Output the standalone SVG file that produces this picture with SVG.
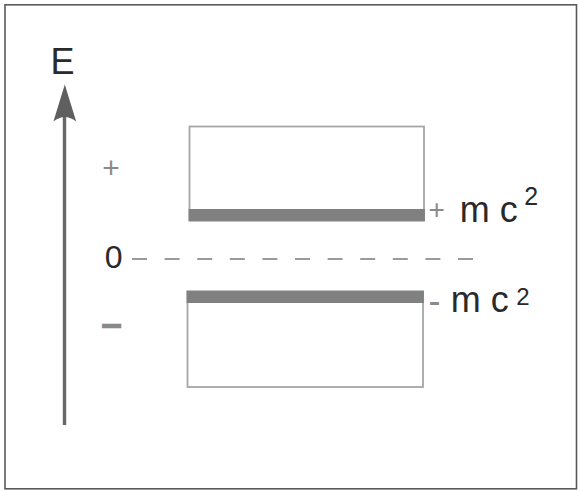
<svg xmlns="http://www.w3.org/2000/svg" width="581" height="491" viewBox="0 0 581 491">
  <style>
    .frame { fill: #ffffff; stroke: #5a5a5a; stroke-width: 1.6; }
    .band-box { fill: #ffffff; stroke: #a6a6a6; stroke-width: 1.8; }
    .band-edge { fill: #808080; }
    .axis { stroke: #666666; stroke-width: 3.4; fill: none; }
    .axis-head { fill: #5f5f5f; }
    .zero-line { stroke: #7a7a7a; stroke-width: 1.5; stroke-dasharray: 15 17.6; fill: none; }
    .lbl { font-family: "Liberation Sans", Arial, sans-serif; fill: #2a2a2a; }
    .sign { font-family: "Liberation Sans", Arial, sans-serif; fill: #8a8a8a; }
  </style>

  <!-- outer frame -->
  <rect class="frame" x="5" y="4.8" width="571.5" height="484"/>

  <!-- energy axis -->
  <g id="connectors">
    <line class="axis" x1="64.5" y1="425" x2="64.5" y2="114"/>
    <path class="axis-head" d="M64.8,84.5 L76.2,121.5 Q64.8,112.5 53.4,121.5 Z"/>
    <line class="zero-line" x1="132" y1="259" x2="474" y2="259"/>
  </g>

  <g id="axis-label">
    <text class="lbl" x="50.5" y="74" font-size="36">E</text>
  </g>

  <g id="sign-labels">
    <text class="sign" x="102.3" y="177.6" font-size="30">+</text>
    <text class="lbl" x="104.7" y="268" font-size="32" fill="#333333">0</text>
    <text class="sign" x="103.2" y="334.4" font-size="30" stroke="#8a8a8a" stroke-width="2.6">–</text>
  </g>

  <!-- positive energy continuum -->
  <g id="upper-band">
    <rect class="band-box" x="189.5" y="126.5" width="234.5" height="94"/>
    <rect class="band-edge" x="188.6" y="209" width="236.3" height="12.3"/>
    <text class="sign" x="428.5" y="219" font-size="28">+</text>
    <text class="lbl" x="459.7" y="222" font-size="36">m c<tspan x="524.3" y="205" font-size="25">2</tspan></text>
  </g>

  <!-- negative energy continuum -->
  <g id="lower-band">
    <rect class="band-box" x="187.5" y="291.5" width="235.5" height="95.5"/>
    <rect class="band-edge" x="186.6" y="290.7" width="237.3" height="12.3"/>
    <text class="sign" x="428.4" y="312.5" font-size="36">-</text>
    <text class="lbl" x="450.7" y="312" font-size="36">m c<tspan x="516.3" y="305" font-size="24">2</tspan></text>
  </g>
</svg>
